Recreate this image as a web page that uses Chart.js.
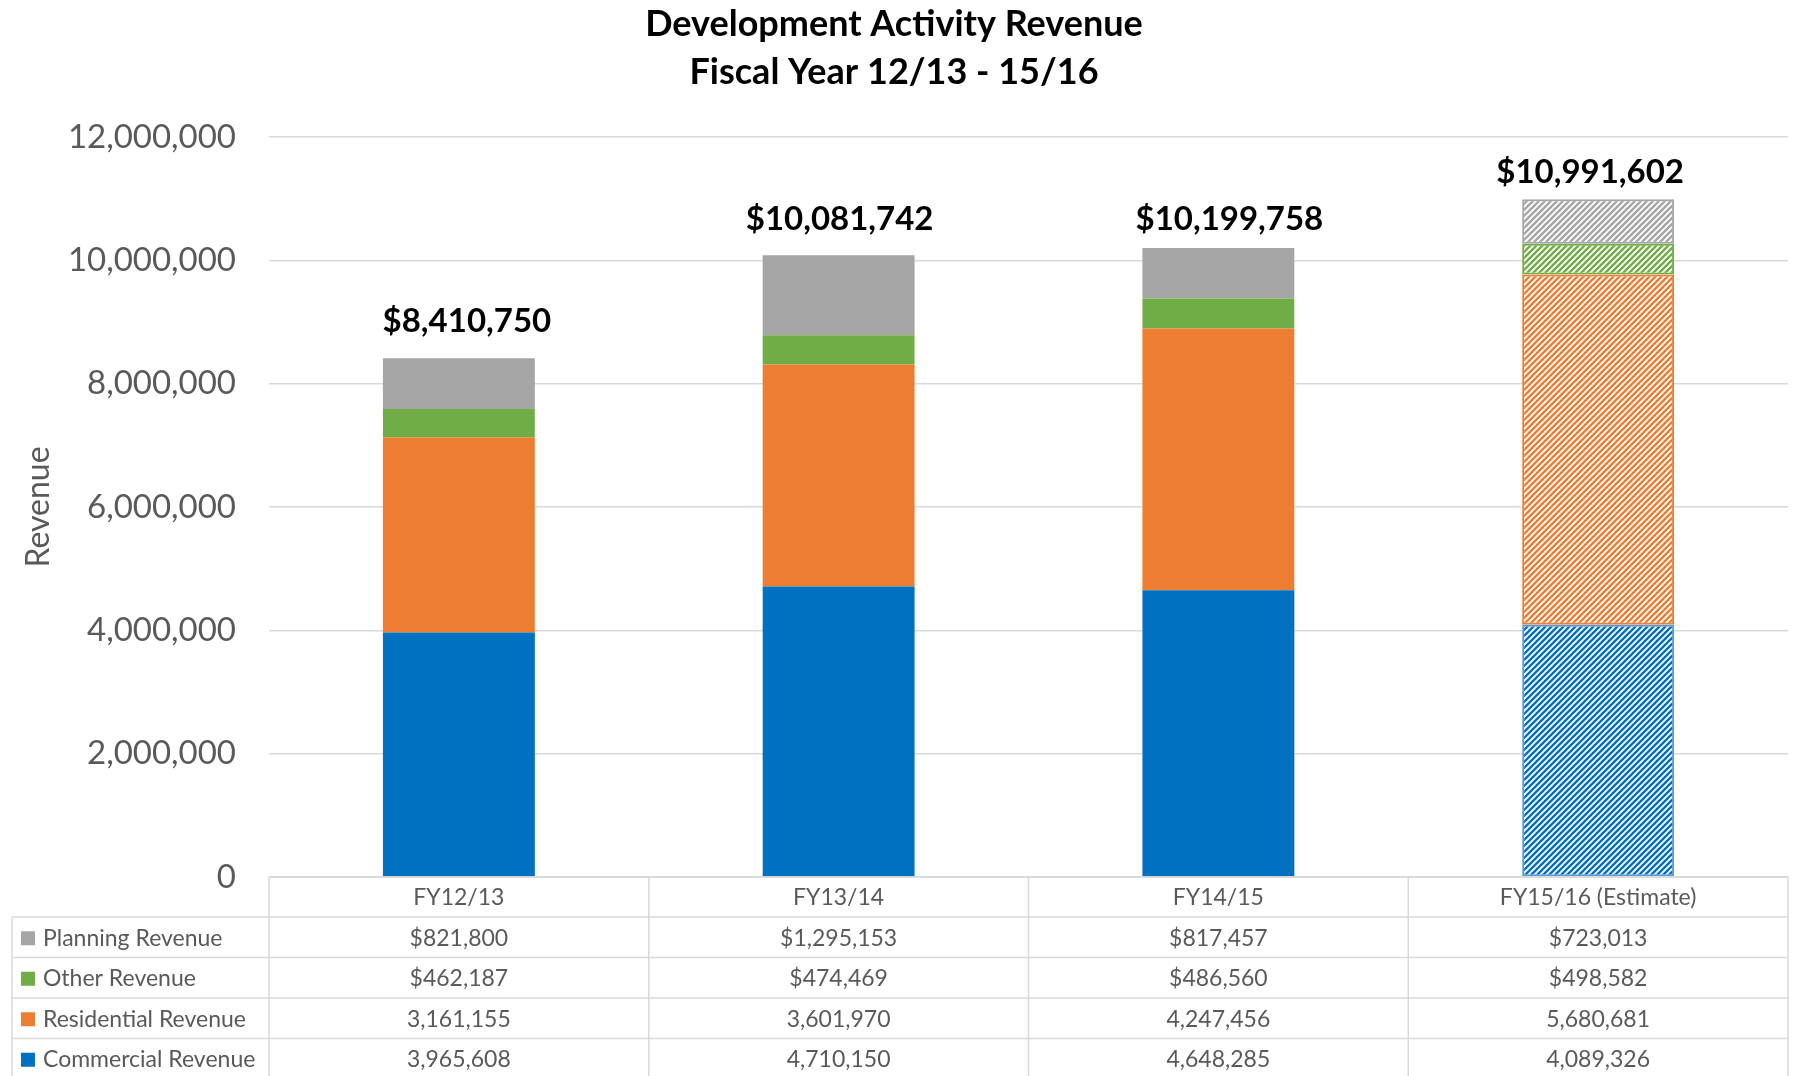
<!DOCTYPE html>
<html><head><meta charset="utf-8">
<script src="https://cdn.jsdelivr.net/npm/chart.js@4/dist/chart.umd.min.js"></script>
<style>html,body{margin:0;padding:0;background:#fff;}#wrap{width:1805px;height:1076px;position:relative;}</style>
</head><body><div id="wrap"><canvas id="c" width="1805" height="1076"></canvas></div>
<script>
// ---- data ----
const categories = ['FY12/13', 'FY13/14', 'FY14/15', 'FY15/16 (Estimate)'];
const commercialRevenue = [3965608, 4710150, 4648285, 4089326];
const residentialRevenue = [3161155, 3601970, 4247456, 5680681];
const otherRevenue = [462187, 474469, 486560, 498582];
const planningRevenue = [821800, 1295153, 817457, 723013];
const seriesNames = ['Commercial Revenue', 'Residential Revenue', 'Other Revenue', 'Planning Revenue'];
const seriesPrefix = ['', '', '$', '$'];
const estimateCategory = 'FY15/16 (Estimate)';
const yMin = 0, yMax = 12000000, yStep = 2000000;
const titleLines = ['Development Activity Revenue', 'Fiscal Year 12/13 - 15/16'];
const yTitle = 'Revenue';

// ---- styles ----
const fills = ['#0070c0', '#ed7d31', '#70ad47', '#a5a5a5'];
const hatchBorders = ['#5b9bd5', '#ed7d31', '#70ad47', '#a5a5a5'];
const FONT = 'Lato';
const TEXT_GRAY = '#595959';
const LINE_GRAY = '#d9d9d9';
// hand-placed total label offsets (px): horizontal shift, lift of label centre above bar top
const labelShiftX = [8, 1, 11, -8];
const labelLiftY = [37, 36, 29, 27];

function makeHatch(color) {
  const s = 6;
  const c = document.createElement('canvas');
  c.width = s; c.height = s;
  const g = c.getContext('2d');
  g.fillStyle = '#ffffff'; g.fillRect(0, 0, s, s);
  g.strokeStyle = color; g.lineWidth = 2.4; g.lineCap = 'square';
  g.beginPath();
  g.moveTo(-1, s + 1); g.lineTo(s + 1, -1);
  g.moveTo(-1, 1); g.lineTo(1, -1);
  g.moveTo(s - 1, s + 1); g.lineTo(s + 1, s - 1);
  g.stroke();
  return g.createPattern(c, 'repeat');
}

const seriesValues = [commercialRevenue, residentialRevenue, otherRevenue, planningRevenue];

const fmt = v => v.toLocaleString('en-US');

const totalsPlugin = {
  id: 'totals',
  afterDatasetsDraw(chart) {
    const ctx = chart.ctx;
    const x = chart.scales.x, y = chart.scales.y;
    ctx.save();
    ctx.font = `bold 33px ${FONT}`;
    ctx.fillStyle = '#000';
    ctx.textAlign = 'center';
    ctx.textBaseline = 'middle';
    categories.forEach((cat, i) => {
      const total = seriesValues.reduce((a, s) => a + s[i], 0);
      const px = x.getPixelForValue(i) + labelShiftX[i];
      const py = y.getPixelForValue(total) - labelLiftY[i];
      ctx.fillText('$' + fmt(total), px, py);
    });
    ctx.restore();
  }
};

const tablePlugin = {
  id: 'dataTable',
  afterDraw(chart) {
    const ctx = chart.ctx;
    const x = chart.scales.x;
    const area = chart.chartArea;
    const n = categories.length;
    const colW = (area.right - area.left) / n;
    const top = area.bottom;
    const headerH = 40;
    const rowH = 40.5;
    const legendLeft = 12;
    const bottom = chart.height;
    ctx.save();
    ctx.strokeStyle = LINE_GRAY;
    ctx.lineWidth = 1.5;
    ctx.beginPath();
    ctx.moveTo(area.left, top); ctx.lineTo(area.right, top);
    for (let r = 0; r < 4; r++) {
      const yy = top + headerH + r * rowH;
      ctx.moveTo(legendLeft, yy); ctx.lineTo(area.right, yy);
    }
    ctx.moveTo(legendLeft, top + headerH); ctx.lineTo(legendLeft, bottom);
    for (let i = 0; i <= n; i++) {
      const xx = area.left + i * colW;
      ctx.moveTo(xx, top); ctx.lineTo(xx, bottom);
    }
    ctx.stroke();

    ctx.font = `23px ${FONT}`;
    ctx.fillStyle = TEXT_GRAY;
    ctx.textAlign = 'center';
    ctx.textBaseline = 'middle';
    categories.forEach((cat, i) => {
      ctx.fillText(cat, x.getPixelForValue(i), top + headerH / 2 + 1);
    });
    for (let r = 0; r < 4; r++) {
      const si = 3 - r;
      const cy = top + headerH + r * rowH + rowH / 2 + 1;
      ctx.fillStyle = fills[si];
      ctx.fillRect(21, cy - 7, 14, 14);
      ctx.fillStyle = TEXT_GRAY;
      ctx.textAlign = 'left';
      ctx.fillText(seriesNames[si], 43, cy);
      ctx.textAlign = 'center';
      seriesValues[si].forEach((v, i) => {
        ctx.fillText(seriesPrefix[si] + fmt(v), x.getPixelForValue(i), cy);
      });
    }
    ctx.restore();
  }
};

function build() {
  const datasets = seriesNames.map((name, si) => {
    const pattern = makeHatch(fills[si]);
    return {
      label: name,
      data: seriesValues[si],
      backgroundColor: categories.map(c => c === estimateCategory ? pattern : fills[si]),
      borderColor: categories.map(c => c === estimateCategory ? hatchBorders[si] : fills[si]),
      borderWidth: categories.map(c => c === estimateCategory ? 2 : 0),
      borderSkipped: false,
      barPercentage: 0.4,
      categoryPercentage: 1.0
    };
  });
  new Chart(document.getElementById('c'), {
    type: 'bar',
    data: { labels: categories, datasets },
    options: {
      responsive: false,
      animation: false,
      devicePixelRatio: 1,
      layout: { padding: { left: 0, right: 17, top: 0, bottom: 199 } },
      plugins: {
        legend: { display: false },
        tooltip: { enabled: false },
        title: {
          display: true, text: titleLines, color: '#000',
          font: { family: FONT, size: 36, weight: 'bold', lineHeight: 48 / 36 },
          padding: { top: 0, bottom: 41 }
        }
      },
      scales: {
        x: { display: false, stacked: true },
        y: {
          stacked: true, min: yMin, max: yMax,
          ticks: { stepSize: yStep, color: TEXT_GRAY, font: { family: FONT, size: 33 }, padding: 33, callback: v => fmt(v) },
          grid: { color: LINE_GRAY, lineWidth: 1.5, drawTicks: false },
          border: { display: false },
          title: { display: true, text: yTitle, color: TEXT_GRAY, font: { family: FONT, size: 32 }, padding: { top: 19, bottom: 0 } },
          afterFit(s) { s.width = 269; }
        }
      }
    },
    plugins: [totalsPlugin, tablePlugin]
  });
}
Promise.all([document.fonts.load('32px Lato'), document.fonts.load('bold 32px Lato')]).then(build, build);
</script></body></html>
